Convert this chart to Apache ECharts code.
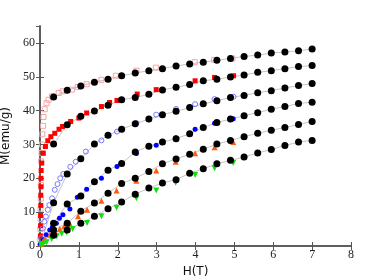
<!DOCTYPE html>
<html>
<head>
<meta charset="utf-8">
<script src="https://cdn.jsdelivr.net/npm/echarts@6/dist/echarts.min.js"></script>
<style>
html, body { margin: 0; padding: 0; background: #fff; }
#chart { width: 382px; height: 278px; }
</style>
</head>
<body>
<div id="chart"></div>
<script>
// field grid of the black points (T)
var fieldH = [0.35, 0.7, 1.05, 1.4, 1.75, 2.1, 2.45, 2.8, 3.15, 3.5, 3.85, 4.2, 4.55, 4.9, 5.25, 5.6, 5.95, 6.3, 6.65, 7.0];

// black points, one list per curve (emu/g)
var black1 = [44.0, 46.0, 47.3, 48.4, 49.3, 50.3, 51.1, 51.8, 52.4, 53.2, 53.8, 54.3, 54.9, 55.4, 56.0, 56.4, 57.0, 57.3, 57.7, 58.2];
var black2 = [30.1, 35.8, 38.3, 39.9, 41.6, 43.2, 43.9, 44.8, 46.1, 46.9, 47.7, 48.8, 49.3, 49.9, 50.5, 51.3, 51.8, 52.4, 53.0, 53.3];
var black3 = [12.8, 21.3, 25.8, 30.1, 32.7, 34.5, 36.1, 37.5, 38.8, 39.8, 40.9, 42.0, 42.9, 43.9, 44.5, 45.3, 45.9, 46.7, 47.4, 48.0];
var black4 = [6.7, 12.4, 14.8, 19.0, 22.4, 24.4, 27.8, 29.5, 30.7, 31.7, 33.2, 35.0, 36.5, 37.5, 38.5, 39.4, 40.4, 41.2, 42.1, 42.5];
var black5 = [4.7, 6.7, 10.3, 12.7, 15.6, 18.5, 20.0, 22.0, 24.3, 25.7, 27.1, 28.6, 30.1, 31.2, 32.3, 33.3, 34.2, 35.0, 35.9, 36.8];
var black6 = [3.2, 4.7, 6.7, 8.8, 11.0, 13.0, 15.3, 17.1, 18.6, 19.6, 21.5, 22.8, 24.3, 25.3, 26.3, 27.5, 28.5, 29.7, 30.7, 31.2];

// coloured measurements [H, M]
var pinkSq = [[0.01, 2], [0.01, 5], [0.015, 8], [0.015, 11], [0.02, 14], [0.025, 18], [0.03, 25], [0.04, 27.5], [0.05, 30],
  [0.06, 33], [0.08, 35.5], [0.09, 38.1], [0.12, 40.4], [0.17, 42.2], [0.22, 43.2], [0.31, 44.2], [0.48, 45.2],
  [0.58, 45.7], [0.82, 46.2], [0.97, 47.0], [1.2, 47.8], [1.58, 49.1], [1.95, 50.3], [2.48, 51.8], [2.98, 52.7],
  [3.98, 54.3], [4.48, 55.0], [4.95, 55.4]];
var redSq = [[0.01, 0.5], [0.01, 3], [0.015, 6], [0.015, 9], [0.02, 12], [0.02, 15], [0.025, 17.5], [0.025, 20],
  [0.03, 22.3], [0.045, 24.5], [0.085, 27.4], [0.14, 29.4], [0.2, 31.1], [0.28, 32.3], [0.38, 33.3], [0.49, 34.5],
  [0.58, 35.3], [0.79, 36.8], [1.0, 37.8], [1.2, 39.3], [1.58, 41.2], [1.79, 42.4], [1.98, 43.0], [2.5, 44.9],
  [2.99, 46.2], [3.99, 48.8], [4.49, 49.8], [4.98, 50.3]];
var blueOpen = [[0.01, 0.5], [0.03, 2.3], [0.07, 5.2], [0.11, 7.2], [0.15, 8.7], [0.2, 10.7], [0.24, 12.1], [0.31, 14.1],
  [0.38, 16.6], [0.45, 18.3], [0.52, 20.0], [0.6, 21.3], [0.78, 23.4], [0.92, 24.9], [1.18, 27.9], [1.58, 31.2],
  [1.98, 33.8], [2.48, 36.3], [2.99, 38.8], [3.5, 40.5], [3.99, 41.9], [4.49, 43.4], [4.98, 44.1]];
var blueFill = [[0.01, 0.5], [0.08, 1.8], [0.16, 3.3], [0.25, 4.7], [0.32, 5.6], [0.42, 6.7], [0.5, 8.2], [0.59, 9.2],
  [0.77, 10.9], [0.96, 14.4], [1.2, 16.8], [1.58, 20.0], [1.98, 23.5], [2.48, 27.3], [2.99, 29.8], [3.49, 31.9],
  [3.99, 34.5], [4.49, 36.3], [4.97, 37.6]];
var orangeTri = [[0.03, 0.7], [0.08, 1.5], [0.13, 2.1], [0.26, 3.3], [0.38, 4.5], [0.51, 5.0], [0.62, 5.8], [0.77, 6.5],
  [0.98, 8.8], [1.21, 10.7], [1.58, 13.4], [1.97, 16.4], [2.48, 19.3], [2.99, 22.3], [3.49, 24.9], [3.99, 27.4],
  [4.49, 29.2], [4.97, 30.7]];
var greenTri = [[0.03, 0.3], [0.08, 0.6], [0.17, 1.1], [0.3, 2.1], [0.43, 2.9], [0.56, 3.6], [0.68, 4.0], [0.84, 5.0],
  [1.21, 6.8], [1.58, 8.8], [1.97, 11.3], [2.48, 14.1], [2.99, 16.4], [3.49, 18.7], [3.99, 21.0], [4.49, 23.0],
  [4.97, 24.5]];

var chart = echarts.init(document.getElementById('chart'));

function pairs(vals, fromOrigin) {
    var out = fromOrigin ? [[0, 0]] : [];
    for (var i = 0; i < vals.length; i++) out.push([fieldH[i], vals[i]]);
    return out;
}

function fitLine(vals, fromOrigin) {
    return {
        type: 'line', data: pairs(vals, fromOrigin), showSymbol: false, silent: true, z: 1,
        lineStyle: {color: '#c4c4c4', width: 1}
    };
}

function dots(vals) {
    return {
        type: 'scatter', data: pairs(vals, false), symbol: 'circle', symbolSize: 7, z: 5,
        itemStyle: {color: '#000', opacity: 1}
    };
}

function marks(data, symbol, size, color, open, rotate) {
    var s = {
        type: 'scatter', data: data, symbol: symbol, symbolSize: size, z: 3,
        itemStyle: open ? {color: 'rgba(0,0,0,0)', borderColor: color, borderWidth: 1, opacity: 1}
                        : {color: color, opacity: 1}
    };
    if (rotate) s.symbolRotate = rotate;
    return s;
}

var tickFont = {fontFamily: 'Liberation Serif', fontSize: 12, color: '#222'};
var frame = {show: true, lineStyle: {color: '#555', width: 1.5}};
var inTick = {show: true, inside: true, length: 4, lineStyle: {color: '#555', width: 1}};

var option = {
    animation: false,
    grid: {left: 40, right: 31, top: 26, bottom: 32, outerBoundsMode: 'none'},
    xAxis: [{
        type: 'value', min: 0, max: 8, interval: 1,
        name: 'H(T)', nameLocation: 'middle', nameGap: 20,
        nameTextStyle: {fontFamily: 'DejaVu Sans', fontSize: 12, color: '#111'},
        axisLine: frame, axisTick: inTick, splitLine: {show: false},
        axisLabel: Object.assign({margin: 3}, tickFont)
    }, {
        type: 'value', min: 0, max: 8, interval: 1, position: 'top',
        axisLine: frame, axisTick: inTick, splitLine: {show: false}, axisLabel: {show: false}
    }],
    yAxis: [{
        type: 'value', min: 0, max: 65, interval: 10,
        name: 'M(emu/g)', nameLocation: 'middle', nameGap: 25,
        nameTextStyle: {fontFamily: 'DejaVu Sans', fontSize: 12, color: '#111'},
        axisLine: frame, axisTick: inTick, splitLine: {show: false},
        axisLabel: Object.assign({margin: 5, showMaxLabel: false, formatter: function (v) {
            return v % 10 === 0 ? String(v) : '';
        }}, tickFont)
    }, {
        type: 'value', min: 0, max: 65, interval: 10, position: 'right',
        axisLine: frame, axisTick: inTick, splitLine: {show: false}, axisLabel: {show: false}
    }],
    series: [
        fitLine(black1, false), fitLine(black2, false), fitLine(black3, true),
        fitLine(black4, true), fitLine(black5, true), fitLine(black6, true),
        marks(pinkSq, 'rect', 5, '#f4a4a4', true),
        marks(redSq, 'rect', 5, '#ff0000', false),
        marks(blueOpen, 'circle', 5, '#7878ff', true),
        marks(blueFill, 'circle', 5, '#0000ff', false),
        marks(orangeTri, 'triangle', 6, '#ff5a10', false),
        marks(greenTri, 'triangle', 6, '#10e010', false, 180),
        dots(black1), dots(black2), dots(black3), dots(black4), dots(black5), dots(black6)
    ]
};
chart.setOption(option);
</script>
</body>
</html>
